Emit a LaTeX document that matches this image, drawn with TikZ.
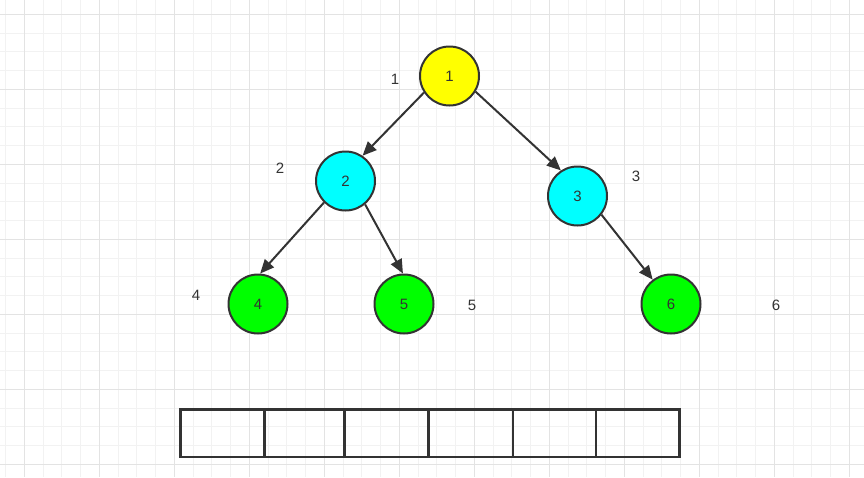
\documentclass[tikz,border=0pt]{standalone}
\usepackage{fontspec}
\setmainfont{Liberation Sans}
\usetikzlibrary{arrows.meta}
\definecolor{ink}{HTML}{333333}
\definecolor{gminor}{HTML}{F2F2F2}
\definecolor{gmajor}{HTML}{E3E3E3}
\definecolor{nyellow}{HTML}{FFFF00}
\definecolor{ncyan}{HTML}{00FFFF}
\definecolor{ngreen}{HTML}{00FF00}
\tikzset{
  treenode/.style={circle, draw=ink, line width=2pt, minimum size=59pt, inner sep=0pt, text=ink, font=\fontsize{15pt}{15pt}\selectfont},
  yel/.style={treenode, fill=nyellow},
  cyn/.style={treenode, fill=ncyan},
  grn/.style={treenode, fill=ngreen},
  idx/.style={text=ink, font=\fontsize{15pt}{15pt}\selectfont, inner sep=0pt},
  edge/.style={draw=ink, line width=2pt, -{Triangle[length=14pt,width=12pt]}},
  cell/.style={draw=ink, line width=2.2pt}
}
\begin{document}
\begin{tikzpicture}[x=1pt,y=-1pt]
\useasboundingbox (0,0) rectangle (864,477);
\fill[white] (0,0) rectangle (864,477);
% grid
\foreach \i in {0,...,46}{
  \pgfmathsetmacro\xx{5.55+\i*18.75}
  \draw[gminor, line width=1pt] (\xx,0) -- (\xx,477);
}
\foreach \k in {0,...,25}{
  \pgfmathsetmacro\yy{14.3+\k*18.75}
  \draw[gminor, line width=1pt] (0,\yy) -- (864,\yy);
}
\foreach \i in {0,...,11}{
  \pgfmathsetmacro\xx{24.3+\i*75}
  \draw[gmajor, line width=1pt] (\xx,0) -- (\xx,477);
}
\foreach \k in {0,...,6}{
  \pgfmathsetmacro\yy{14.3+\k*75}
  \draw[gmajor, line width=1pt] (0,\yy) -- (864,\yy);
}
% nodes
\node[yel] (n1) at (449.5,76) {1};
\node[cyn] (n2) at (345.5,181) {2};
\node[cyn] (n3) at (577.5,196) {3};
\node[grn] (n4) at (258,304) {4};
\node[grn] (n5) at (404,304) {5};
\node[grn] (n6) at (671,304) {6};
% index labels
\node[idx] (l1) at (395,79) {1};
\node[idx] (l2) at (280,168) {2};
\node[idx] (l3) at (636,176) {3};
\node[idx] (l4) at (196,295) {4};
\node[idx] (l5) at (472,305) {5};
\node[idx] (l6) at (776,305) {6};
% edges
\draw[edge] (n1.213) -- (n2.56);
\draw[edge] (n1.329) -- (n3.123);
\draw[edge] (n2.225) -- (n4.86);
\draw[edge] (n2.310) -- (n5.92);
\draw[edge] (n3.322) -- (n6.127);
% array
\node[cell, minimum width=84pt, minimum height=47.5pt, inner sep=0pt, anchor=north west] (c1) at (179.3,408.3) {};
\node[cell, minimum width=80pt, minimum height=47.5pt, inner sep=0pt, anchor=north west] (c2) at (263.3,408.3) {};
\node[cell, minimum width=84pt, minimum height=47.5pt, inner sep=0pt, anchor=north west] (c3) at (343.3,408.3) {};
\node[cell, minimum width=84.4pt, minimum height=47.5pt, inner sep=0pt, anchor=north west] (c4) at (427.3,408.3) {};
\node[cell, minimum width=83.3pt, minimum height=47.5pt, inner sep=0pt, anchor=north west] (c5) at (511.7,408.3) {};
\node[cell, minimum width=83.3pt, minimum height=47.5pt, inner sep=0pt, anchor=north west] (c6) at (595,408.3) {};
\end{tikzpicture}
\end{document}
